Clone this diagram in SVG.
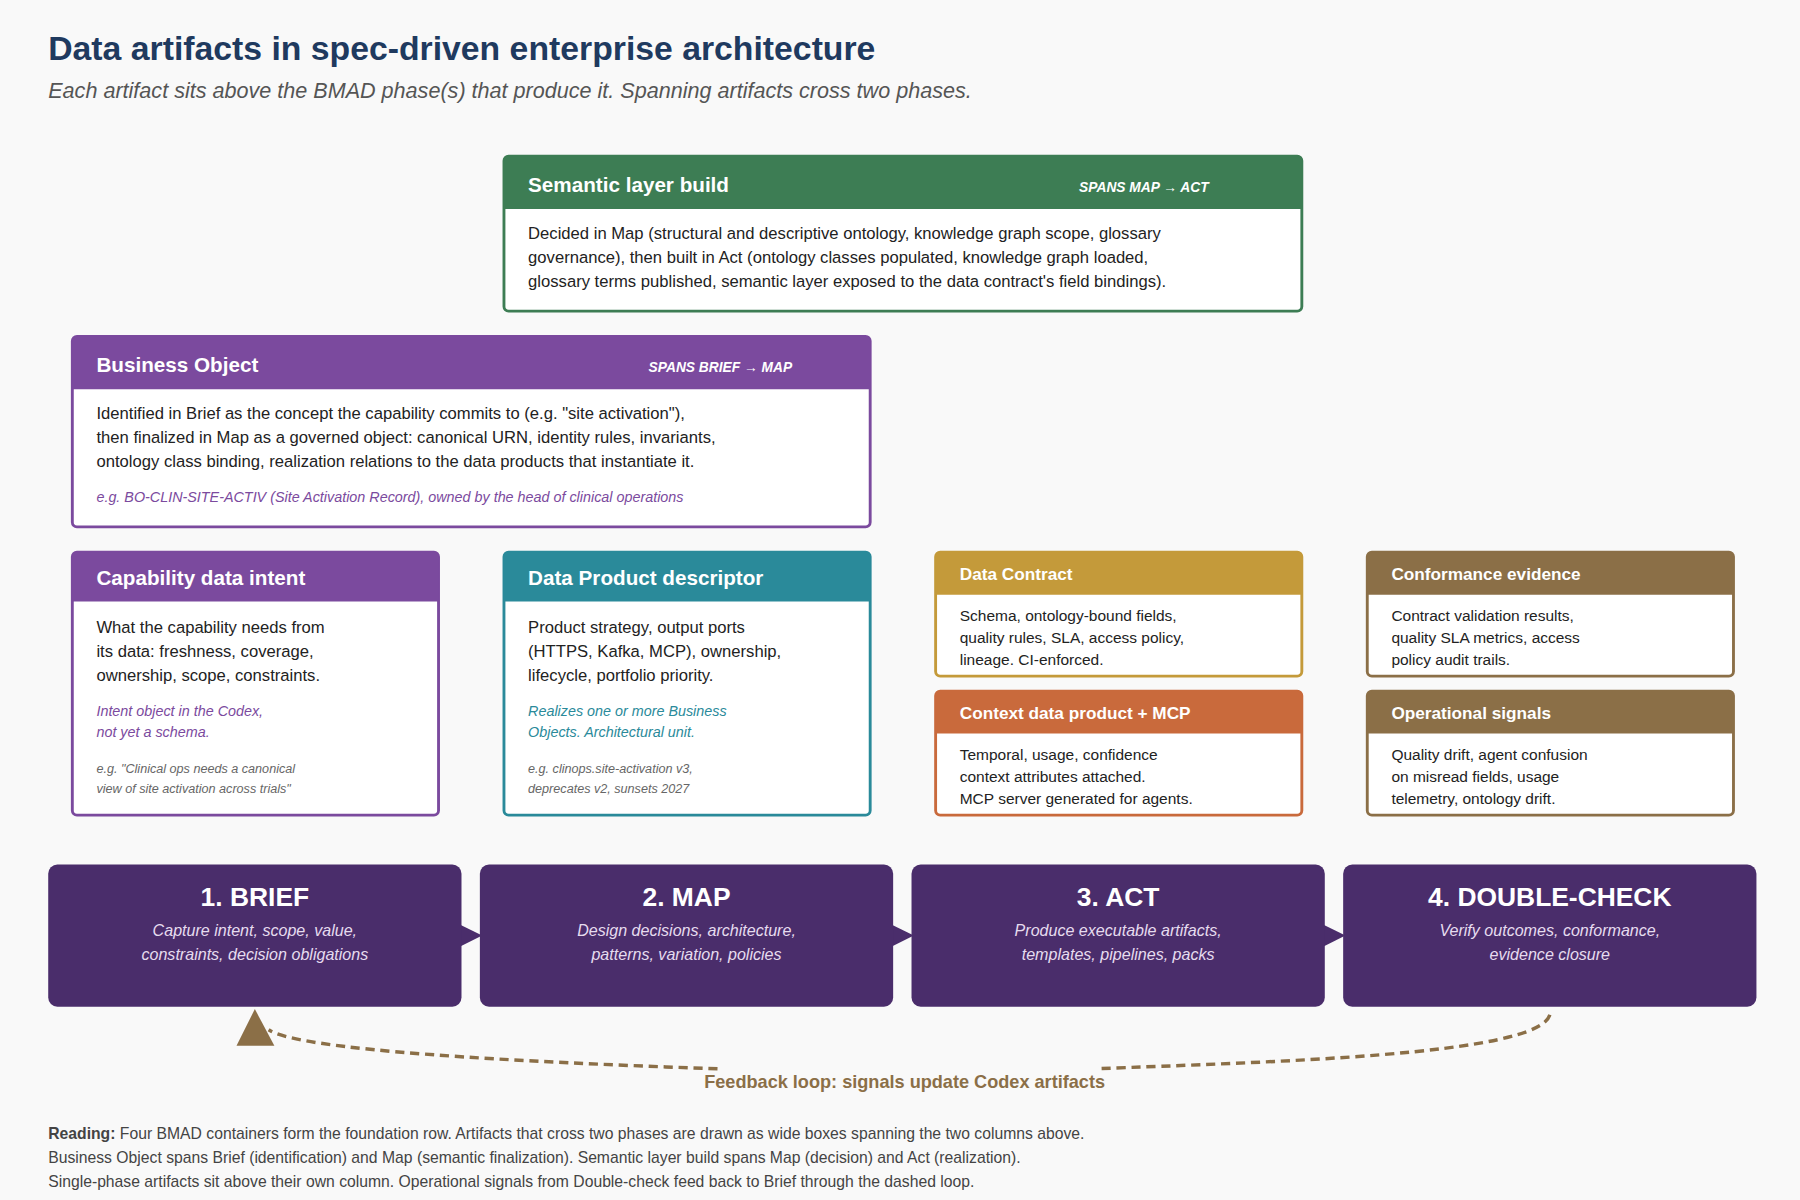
<svg xmlns="http://www.w3.org/2000/svg" width="1800" height="1200" viewBox="0 0 1800 1200">
<style>
text{font-family:"Liberation Sans",Arial,sans-serif}
.card{fill:#fff;stroke-width:2.5}
.ht{fill:#fff;font-weight:bold;font-size:18px}
.hm{fill:#fff;font-weight:bold;font-size:15px}
.hs{fill:#fff;font-weight:bold;font-style:italic;font-size:12px}
.b{fill:#222;font-size:14.5px}
.bs{fill:#222;font-size:13.5px}
.it{font-style:italic;font-size:12.5px}
.ex{fill:#666;font-style:italic;font-size:11px}
.ph{fill:#4a2d6b}
.pt{fill:#fff;font-weight:bold;font-size:23px;text-anchor:middle}
.pd{fill:#e6dcef;font-style:italic;font-size:14px;text-anchor:middle}
.ft{fill:#444;font-size:13.7px}
</style>
<rect width="1800" height="1200" fill="#f9f9f9"/>
<g transform="scale(1.148)">
<text x="42" y="52" font-size="29.4" font-weight="bold" fill="#1f3a5f">Data artifacts in spec-driven enterprise architecture</text>
<text x="42" y="85" font-size="18.8" font-style="italic" fill="#555">Each artifact sits above the BMAD phase(s) that produce it. Spanning artifacts cross two phases.</text>

<g id="semantic">
<rect class="card" x="439" y="136" width="695" height="135" rx="4" stroke="#3d7d54"/>
<path d="M439 140a4 4 0 0 1 4-4h687a4 4 0 0 1 4 4v42h-695z" fill="#3d7d54"/>
<text class="ht" x="460" y="167">Semantic layer build</text>
<text class="hs" x="940" y="167">SPANS MAP → ACT</text>
<text class="b" x="460" y="208">Decided in Map (structural and descriptive ontology, knowledge graph scope, glossary</text>
<text class="b" x="460" y="229">governance), then built in Act (ontology classes populated, knowledge graph loaded,</text>
<text class="b" x="460" y="250">glossary terms published, semantic layer exposed to the data contract's field bindings).</text>
</g>

<g id="business-object">
<rect class="card" x="63" y="293" width="695" height="166" rx="4" stroke="#7b4a9e"/>
<path d="M63 297a4 4 0 0 1 4-4h687a4 4 0 0 1 4 4v42h-695z" fill="#7b4a9e"/>
<text class="ht" x="84" y="324">Business Object</text>
<text class="hs" x="565" y="324">SPANS BRIEF → MAP</text>
<text class="b" x="84" y="365">Identified in Brief as the concept the capability commits to (e.g. "site activation"),</text>
<text class="b" x="84" y="386">then finalized in Map as a governed object: canonical URN, identity rules, invariants,</text>
<text class="b" x="84" y="407">ontology class binding, realization relations to the data products that instantiate it.</text>
<text class="it" x="84" y="437" fill="#7b4a9e">e.g. BO-CLIN-SITE-ACTIV (Site Activation Record), owned by the head of clinical operations</text>
</g>

<g id="capability">
<rect class="card" x="63" y="481" width="319" height="229" rx="4" stroke="#7b4a9e"/>
<path d="M63 485a4 4 0 0 1 4-4h311a4 4 0 0 1 4 4v39h-319z" fill="#7b4a9e"/>
<text class="ht" x="84" y="510">Capability data intent</text>
<text class="b" x="84" y="551">What the capability needs from</text>
<text class="b" x="84" y="572">its data: freshness, coverage,</text>
<text class="b" x="84" y="593">ownership, scope, constraints.</text>
<text class="it" x="84" y="624" fill="#7b4a9e">Intent object in the Codex,</text>
<text class="it" x="84" y="642" fill="#7b4a9e">not yet a schema.</text>
<text class="ex" x="84" y="673">e.g. "Clinical ops needs a canonical</text>
<text class="ex" x="84" y="691">view of site activation across trials"</text>
</g>

<g id="data-product">
<rect class="card" x="439" y="481" width="319" height="229" rx="4" stroke="#2a8a9a"/>
<path d="M439 485a4 4 0 0 1 4-4h311a4 4 0 0 1 4 4v39h-319z" fill="#2a8a9a"/>
<text class="ht" x="460" y="510">Data Product descriptor</text>
<text class="b" x="460" y="551">Product strategy, output ports</text>
<text class="b" x="460" y="572">(HTTPS, Kafka, MCP), ownership,</text>
<text class="b" x="460" y="593">lifecycle, portfolio priority.</text>
<text class="it" x="460" y="624" fill="#2a8a9a">Realizes one or more Business</text>
<text class="it" x="460" y="642" fill="#2a8a9a">Objects. Architectural unit.</text>
<text class="ex" x="460" y="673">e.g. clinops.site-activation v3,</text>
<text class="ex" x="460" y="691">deprecates v2, sunsets 2027</text>
</g>

<g id="data-contract">
<rect class="card" x="815" y="481" width="319" height="108" rx="4" stroke="#c49a3a"/>
<path d="M815 485a4 4 0 0 1 4-4h311a4 4 0 0 1 4 4v33h-319z" fill="#c49a3a"/>
<text class="hm" x="836" y="505">Data Contract</text>
<text class="bs" x="836" y="541">Schema, ontology-bound fields,</text>
<text class="bs" x="836" y="560">quality rules, SLA, access policy,</text>
<text class="bs" x="836" y="579">lineage. CI-enforced.</text>
</g>

<g id="context-product">
<rect class="card" x="815" y="602" width="319" height="108" rx="4" stroke="#c96a3c"/>
<path d="M815 606a4 4 0 0 1 4-4h311a4 4 0 0 1 4 4v33h-319z" fill="#c96a3c"/>
<text class="hm" x="836" y="626">Context data product + MCP</text>
<text class="bs" x="836" y="662">Temporal, usage, confidence</text>
<text class="bs" x="836" y="681">context attributes attached.</text>
<text class="bs" x="836" y="700">MCP server generated for agents.</text>
</g>

<g id="conformance">
<rect class="card" x="1191" y="481" width="319" height="108" rx="4" stroke="#8b6f47"/>
<path d="M1191 485a4 4 0 0 1 4-4h311a4 4 0 0 1 4 4v33h-319z" fill="#8b6f47"/>
<text class="hm" x="1212" y="505">Conformance evidence</text>
<text class="bs" x="1212" y="541">Contract validation results,</text>
<text class="bs" x="1212" y="560">quality SLA metrics, access</text>
<text class="bs" x="1212" y="579">policy audit trails.</text>
</g>

<g id="operational">
<rect class="card" x="1191" y="602" width="319" height="108" rx="4" stroke="#8b6f47"/>
<path d="M1191 606a4 4 0 0 1 4-4h311a4 4 0 0 1 4 4v33h-319z" fill="#8b6f47"/>
<text class="hm" x="1212" y="626">Operational signals</text>
<text class="bs" x="1212" y="662">Quality drift, agent confusion</text>
<text class="bs" x="1212" y="681">on misread fields, usage</text>
<text class="bs" x="1212" y="700">telemetry, ontology drift.</text>
</g>

<g id="connectors">
<polygon points="400,805 420,815 400,825" class="ph"/>
<polygon points="776,805 796,815 776,825" class="ph"/>
<polygon points="1152,805 1172,815 1152,825" class="ph"/>
<path d="M1350 884 C1340 920 1100 925 955 931" fill="none" stroke="#8b6f47" stroke-width="3" stroke-dasharray="8 5"/>
<path d="M625 931 C450 925 260 915 234 897" fill="none" stroke="#8b6f47" stroke-width="3" stroke-dasharray="8 5"/>
<polygon points="222,879 206,911 239,911" fill="#8b6f47"/>
<text x="788" y="948" font-size="15.8" font-weight="bold" fill="#8b6f47" text-anchor="middle">Feedback loop: signals update Codex artifacts</text>
</g>

<g id="brief"><rect class="ph" x="42" y="753" width="360" height="124" rx="8"/>
<text class="pt" x="222" y="789">1. BRIEF</text>
<text class="pd" x="222" y="815">Capture intent, scope, value,</text>
<text class="pd" x="222" y="836">constraints, decision obligations</text></g>
<g id="map"><rect class="ph" x="418" y="753" width="360" height="124" rx="8"/>
<text class="pt" x="598" y="789">2. MAP</text>
<text class="pd" x="598" y="815">Design decisions, architecture,</text>
<text class="pd" x="598" y="836">patterns, variation, policies</text></g>
<g id="act"><rect class="ph" x="794" y="753" width="360" height="124" rx="8"/>
<text class="pt" x="974" y="789">3. ACT</text>
<text class="pd" x="974" y="815">Produce executable artifacts,</text>
<text class="pd" x="974" y="836">templates, pipelines, packs</text></g>
<g id="double-check"><rect class="ph" x="1170" y="753" width="360" height="124" rx="8"/>
<text class="pt" x="1350" y="789">4. DOUBLE-CHECK</text>
<text class="pd" x="1350" y="815">Verify outcomes, conformance,</text>
<text class="pd" x="1350" y="836">evidence closure</text></g>

<text class="ft" x="42" y="992"><tspan font-weight="bold">Reading:</tspan> Four BMAD containers form the foundation row. Artifacts that cross two phases are drawn as wide boxes spanning the two columns above.</text>
<text class="ft" x="42" y="1013">Business Object spans Brief (identification) and Map (semantic finalization). Semantic layer build spans Map (decision) and Act (realization).</text>
<text class="ft" x="42" y="1034">Single-phase artifacts sit above their own column. Operational signals from Double-check feed back to Brief through the dashed loop.</text>
</g>
</svg>
